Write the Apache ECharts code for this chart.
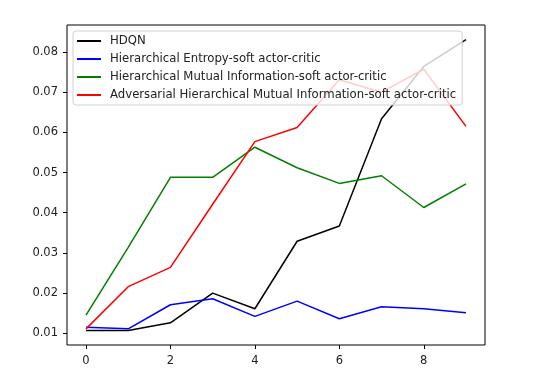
<!DOCTYPE html>
<html>
<head>
<meta charset="utf-8">
<script src="https://cdn.jsdelivr.net/npm/echarts@6/dist/echarts.min.js"></script>
<style>
  html, body { margin: 0; padding: 0; background: #fff; }
  #main { width: 538px; height: 391px; }
</style>
</head>
<body>
<div id="main"></div>
<script>
// episodes 0..9
var steps = [0, 1, 2, 3, 4, 5, 6, 7, 8, 9];
var xTicks = [0, 2, 4, 6, 8];
var yTicks = [0.01, 0.02, 0.03, 0.04, 0.05, 0.06, 0.07, 0.08];

var seriesNames = [
  'HDQN',
  'Hierarchical Entropy-soft actor-critic',
  'Hierarchical Mutual Information-soft actor-critic',
  'Adversarial Hierarchical Mutual Information-soft actor-critic'
];
var hdqn  = [0.0107, 0.0107, 0.0126, 0.0200, 0.0161, 0.0329, 0.0367, 0.0634, 0.0764, 0.0831];
var hesac = [0.0115, 0.0111, 0.0171, 0.0186, 0.0142, 0.0180, 0.0136, 0.0166, 0.0161, 0.0151];
var hmisac = [0.0145, 0.0314, 0.0488, 0.0488, 0.0563, 0.0512, 0.0473, 0.0492, 0.0413, 0.0472];
var ahmisac = [0.0111, 0.0216, 0.0264, 0.0421, 0.0577, 0.0612, 0.0731, 0.0700, 0.0757, 0.0615];
var colors = ['#000000', '#0000ff', '#008000', '#ff0000'];

var allData = [hdqn, hesac, hmisac, ahmisac];

// matplotlib style 5% margins
var allVals = [].concat.apply([], allData);
var yMin = Math.min.apply(null, allVals), yMax = Math.max.apply(null, allVals);
var yPad = (yMax - yMin) * 0.05;
var xPad = (steps[steps.length - 1] - steps[0]) * 0.05;

var chart = echarts.init(document.getElementById('main'));

var series = allData.map(function (arr, i) {
  return {
    name: seriesNames[i],
    type: 'line',
    data: arr.map(function (v, j) { return [steps[j], v]; }),
    showSymbol: false,
    symbol: 'none',
    lineStyle: { color: colors[i], width: 1.5 },
    itemStyle: { color: colors[i] }
  };
});

var option = {
  animation: false,
  grid: {
    left: 67, right: 53, top: 25, bottom: 46,
    show: true, borderColor: '#000', borderWidth: 1, backgroundColor: 'transparent'
  },
  legend: {
    orient: 'vertical',
    left: 73, top: 31,
    padding: [3, 6, 3, 4],
    itemWidth: 24, itemHeight: 2, itemGap: 4,
    icon: 'rect',
    backgroundColor: 'rgba(255,255,255,0.8)',
    borderColor: '#d0d0d0', borderWidth: 1, borderRadius: 3,
    textStyle: { fontFamily: 'DejaVu Sans', fontSize: 11.7, color: '#222', lineHeight: 14, padding: [0, 0, 0, 4] },
    data: seriesNames
  },
  xAxis: {
    type: 'value',
    min: steps[0] - xPad, max: steps[steps.length - 1] + xPad,
    axisLine: { show: false, onZero: false },
    splitLine: { show: false },
    axisTick: { show: true, inside: false, length: 4, lineStyle: { color: '#000' }, customValues: xTicks },
    axisLabel: { fontFamily: 'DejaVu Sans', fontSize: 11.5, color: '#222', margin: 10, customValues: xTicks }
  },
  yAxis: {
    type: 'value',
    min: yMin - yPad, max: yMax + yPad,
    axisLine: { show: false, onZero: false },
    splitLine: { show: false },
    axisTick: { show: true, inside: false, length: 4, lineStyle: { color: '#000' }, customValues: yTicks },
    axisLabel: {
      fontFamily: 'DejaVu Sans', fontSize: 11.5, color: '#222', margin: 9, customValues: yTicks,
      formatter: function (v) { return v.toFixed(2); }
    }
  },
  series: series
};

chart.setOption(option);
</script>
</body>
</html>
